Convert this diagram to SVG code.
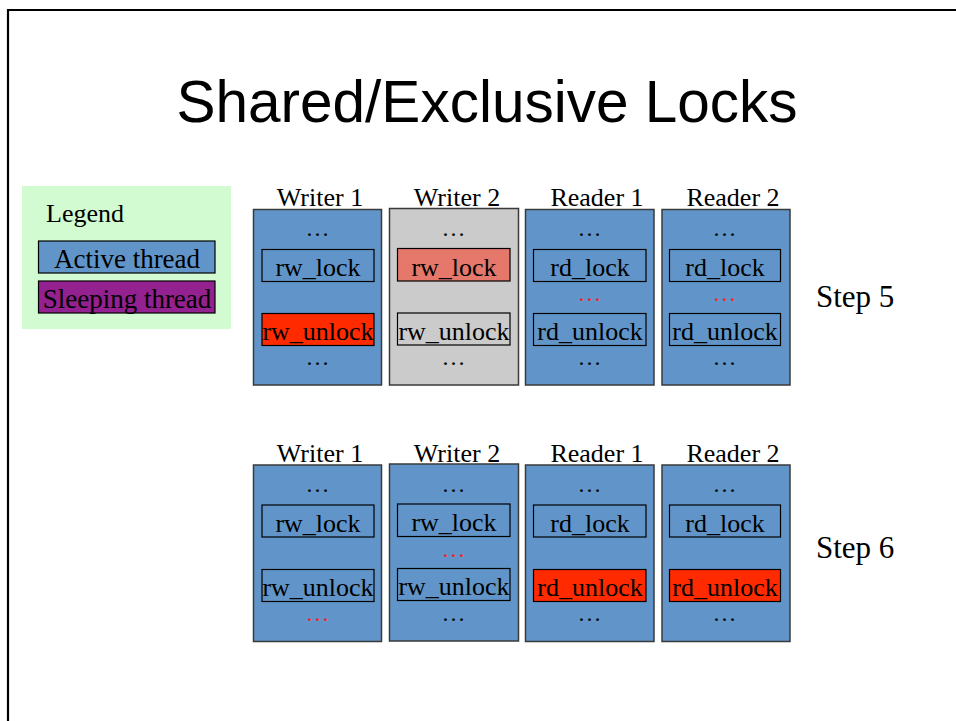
<svg xmlns="http://www.w3.org/2000/svg" width="956" height="721" viewBox="0 0 956 721">
  <style>
    .t { font-family: "Liberation Serif", "Times New Roman", serif; fill: #000; }
    .hd { font-size: 26px; text-anchor: middle; }
    .op { font-size: 26px; text-anchor: middle; }
    .dots { font-size: 24px; text-anchor: middle; letter-spacing: 1px; }
    .red { fill: #ff1a1a; }
    .thread { fill: #6195c9; stroke: #3a3a3a; stroke-width: 1.5; }
    .waiting { fill: #cbcbcb; stroke: #3a3a3a; stroke-width: 1.5; }
    .call { fill: none; stroke: #000; stroke-width: 1.2; }
    .hot { fill: #ff2a00; stroke: #000; stroke-width: 1.2; }
    .blocked { fill: #e5786a; stroke: #000; stroke-width: 1.2; }
  </style>

  <rect x="0" y="0" width="956" height="721" fill="#fff"/>
  <path d="M8,721 V10 H956" fill="none" stroke="#000" stroke-width="2.2"/>

  <text x="487" y="122" font-family="Liberation Sans, Arial, sans-serif" font-size="58.5" text-anchor="middle">Shared/Exclusive Locks</text>

  <!-- Legend -->
  <g id="legend">
    <rect x="22" y="186" width="209" height="143" fill="#d2fbd2"/>
    <text class="t" x="46" y="222" font-size="26">Legend</text>
    <rect x="38.5" y="241" width="176.5" height="32" fill="#6195c9" stroke="#000" stroke-width="1.2"/>
    <text class="t" x="127" y="268" font-size="27" text-anchor="middle">Active thread</text>
    <rect x="38.5" y="281" width="176.5" height="32" fill="#93218f" stroke="#000" stroke-width="1.2"/>
    <text class="t" x="127" y="308" font-size="27" text-anchor="middle">Sleeping thread</text>
  </g>

  <!-- Step 5 -->
  <g id="s5-writer1">
    <text class="t hd" x="320" y="206">Writer 1</text>
    <rect class="thread" x="253.5" y="209.5" width="128" height="175.5"/>
    <text class="t dots" x="318" y="236">…</text>
    <rect class="call" x="262" y="249.5" width="112" height="32"/>
    <text class="t op" x="318" y="276">rw_lock</text>
    <rect class="hot" x="262" y="313.5" width="112" height="32"/>
    <text class="t op" x="318" y="340">rw_unlock</text>
    <text class="t dots" x="318" y="365">…</text>
  </g>
  <g id="s5-writer2">
    <text class="t hd" x="457" y="206">Writer 2</text>
    <rect class="waiting" x="389.5" y="208.5" width="129" height="176.5"/>
    <text class="t dots" x="454" y="236">…</text>
    <rect class="blocked" x="397.5" y="248.5" width="112.5" height="32.5"/>
    <text class="t op" x="454" y="276">rw_lock</text>
    <rect class="call" x="397.5" y="313" width="112.5" height="32"/>
    <text class="t op" x="454" y="340">rw_unlock</text>
    <text class="t dots" x="454" y="365">…</text>
  </g>
  <g id="s5-reader1">
    <text class="t hd" x="597" y="206">Reader 1</text>
    <rect class="thread" x="525.5" y="209.5" width="128.5" height="175.5"/>
    <text class="t dots" x="590" y="236">…</text>
    <rect class="call" x="533.5" y="249.5" width="112.5" height="32"/>
    <text class="t op" x="590" y="276">rd_lock</text>
    <text class="t dots red" x="590" y="301">…</text>
    <rect class="call" x="533.5" y="313.5" width="112.5" height="32"/>
    <text class="t op" x="590" y="340">rd_unlock</text>
    <text class="t dots" x="590" y="365">…</text>
  </g>
  <g id="s5-reader2">
    <text class="t hd" x="733" y="206">Reader 2</text>
    <rect class="thread" x="662" y="209.5" width="128" height="175.5"/>
    <text class="t dots" x="725" y="236">…</text>
    <rect class="call" x="669.5" y="249.5" width="111" height="32"/>
    <text class="t op" x="725" y="276">rd_lock</text>
    <text class="t dots red" x="725" y="301">…</text>
    <rect class="call" x="669.5" y="313.5" width="111" height="32"/>
    <text class="t op" x="725" y="340">rd_unlock</text>
    <text class="t dots" x="725" y="365">…</text>
  </g>
  <text class="t" x="816" y="307" font-size="31">Step 5</text>

  <!-- Step 6 -->
  <g id="s6-writer1">
    <text class="t hd" x="320" y="462">Writer 1</text>
    <rect class="thread" x="253.5" y="465" width="128" height="176.5"/>
    <text class="t dots" x="318" y="492">…</text>
    <rect class="call" x="262" y="505" width="112" height="32"/>
    <text class="t op" x="318" y="532">rw_lock</text>
    <rect class="call" x="262" y="569.5" width="112" height="32"/>
    <text class="t op" x="318" y="596">rw_unlock</text>
    <text class="t dots red" x="318" y="621">…</text>
  </g>
  <g id="s6-writer2">
    <text class="t hd" x="457" y="462">Writer 2</text>
    <rect class="thread" x="389.5" y="464" width="129" height="177"/>
    <text class="t dots" x="454" y="492">…</text>
    <rect class="call" x="397.5" y="504" width="112.5" height="32.5"/>
    <text class="t op" x="454" y="531">rw_lock</text>
    <text class="t dots red" x="454" y="557">…</text>
    <rect class="call" x="397.5" y="568.5" width="112.5" height="32"/>
    <text class="t op" x="454" y="595">rw_unlock</text>
    <text class="t dots" x="454" y="621">…</text>
  </g>
  <g id="s6-reader1">
    <text class="t hd" x="597" y="462">Reader 1</text>
    <rect class="thread" x="525.5" y="465" width="128.5" height="176.5"/>
    <text class="t dots" x="590" y="492">…</text>
    <rect class="call" x="533.5" y="505" width="112.5" height="32"/>
    <text class="t op" x="590" y="532">rd_lock</text>
    <rect class="hot" x="533.5" y="569.5" width="112.5" height="32"/>
    <text class="t op" x="590" y="596">rd_unlock</text>
    <text class="t dots" x="590" y="621">…</text>
  </g>
  <g id="s6-reader2">
    <text class="t hd" x="733" y="462">Reader 2</text>
    <rect class="thread" x="662" y="465" width="128" height="176.5"/>
    <text class="t dots" x="725" y="492">…</text>
    <rect class="call" x="669.5" y="505" width="111" height="32"/>
    <text class="t op" x="725" y="532">rd_lock</text>
    <rect class="hot" x="669.5" y="569.5" width="111" height="32"/>
    <text class="t op" x="725" y="596">rd_unlock</text>
    <text class="t dots" x="725" y="621">…</text>
  </g>
  <text class="t" x="816" y="558" font-size="31">Step 6</text>

  <g id="connectors"/>
</svg>
